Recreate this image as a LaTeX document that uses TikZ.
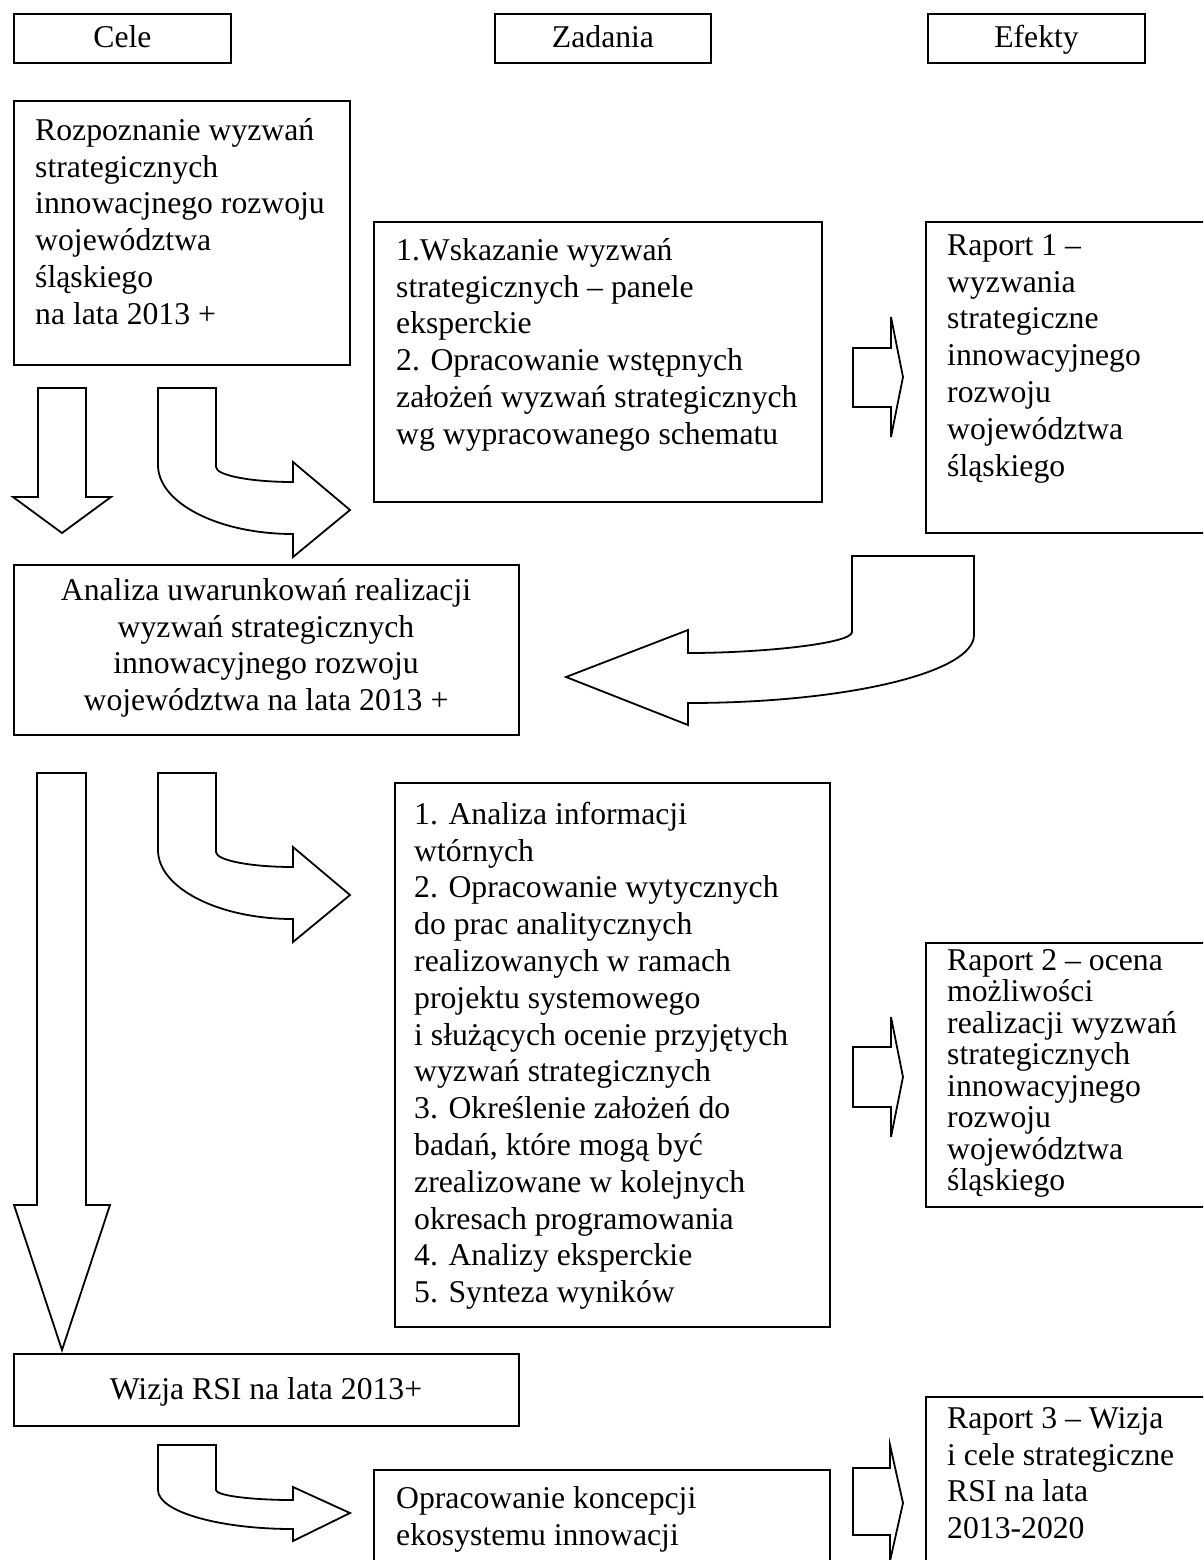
\documentclass[tikz,border=0pt]{standalone}
\usepackage{fontspec}
\setmainfont{Liberation Serif}
\newcommand\fs{\fontsize{31.7}{36.8}\selectfont}
\newcommand\fsb{\fontsize{31.7}{31.5}\selectfont}
\newcommand\st{\rule{0pt}{30pt}}
\begin{document}
\begin{tikzpicture}[x=1pt,y=-1pt,
  box/.style={draw, line width=2pt},
  blk/.style={draw, line width=1.8pt, fill=white, line join=miter},
  txt/.style={anchor=north west, inner sep=0pt, align=left, font=\fs},
  ctxt/.style={anchor=north, inner sep=0pt, align=center, font=\fs},
  htxt/.style={anchor=base, inner sep=0pt, font=\fs}]
\clip (0,0) rectangle (1203,1560);
\fill[white] (0,0) rectangle (1203,1560);

% header boxes
\draw[box] (14,14) rectangle (231,63);
\draw[box] (495,14) rectangle (711,63);
\draw[box] (928,14) rectangle (1145,63);
\node[htxt] (hcele) at (122.5,48) {Cele};
\node[htxt] (hzad) at (603,48) {Zadania};
\node[htxt] (hefe) at (1036.5,48) {Efekty};

% boxes
\draw[box] (14,101) rectangle (350,365);
\node[txt] (rozp) at (35,110) {\st Rozpoznanie wyzwań\\strategicznych\\innowacjnego rozwoju\\województwa\\śląskiego\\na lata 2013 +};

\draw[box] (374,222) rectangle (822,502);
\node[txt] (wsk) at (396,230) {\st 1.Wskazanie wyzwań\\strategicznych – panele\\eksperckie\\2. Opracowanie wstępnych\\założeń wyzwań strategicznych\\wg wypracowanego schematu};

\draw[box] (926,222) rectangle (1215,533);
\node[txt] (rap1) at (947,225) {\st Raport 1 –\\wyzwania\\strategiczne\\innowacyjnego\\rozwoju\\województwa\\śląskiego};

\draw[box] (14,565) rectangle (519,735);
\node[ctxt] (anal) at (266,570) {\st Analiza uwarunkowań realizacji\\wyzwań strategicznych\\innowacyjnego rozwoju\\województwa na lata 2013 +};

\draw[box] (395,783) rectangle (830,1327);
\node[txt] (ainf) at (414,794) {\st 1. Analiza informacji\\wtórnych\\2. Opracowanie wytycznych\\do prac analitycznych\\realizowanych w ramach\\projektu systemowego\\i służących ocenie przyjętych\\wyzwań strategicznych\\3. Określenie założeń do\\badań, które mogą być\\zrealizowane w kolejnych\\okresach programowania\\4. Analizy eksperckie\\5. Synteza wyników};

\draw[box] (926,943) rectangle (1215,1207);
\node[txt, font=\fsb] (rap2) at (947,940) {\st Raport 2 – ocena\\możliwości\\realizacji wyzwań\\strategicznych\\innowacyjnego\\rozwoju\\województwa\\śląskiego};

\draw[box] (14,1354) rectangle (519,1426);
\node[htxt] (wiz) at (266,1399) {Wizja RSI na lata 2013+};

\draw[box] (374,1470) rectangle (830,1580);
\node[txt] (opr) at (396,1478) {\st Opracowanie koncepcji\\ekosystemu innowacji};

\draw[box] (926,1397) rectangle (1215,1580);
\node[txt] (rap3) at (947,1398) {\st Raport 3 – Wizja\\i cele strategiczne\\RSI na lata\\2013-2020};

% down arrows
\draw[blk] (38,388) -- (86,388) -- (86,497) -- (111,497) -- (62,533) -- (13,497) -- (38,497) -- cycle;
\draw[blk] (37,773) -- (86,773) -- (86,1205) -- (110,1205) -- (62,1350) -- (14,1205) -- (37,1205) -- cycle;

% curved arrows to the right
\foreach \dy in {0,385}{
\draw[blk] (158,388+\dy) -- (216,388+\dy) -- (216,467+\dy)
  .. controls (216,475.3+\dy) and (250.5,482+\dy) .. (293,482+\dy)
  -- (293,462+\dy) -- (350,510+\dy) -- (293,557+\dy) -- (293,534+\dy)
  .. controls (218.4,534+\dy) and (158,503+\dy) .. (158,465+\dy) -- cycle;
}
\draw[blk] (158,1445) -- (216,1445) -- (216,1490)
  .. controls (216,1495.5) and (250.5,1500) .. (293,1500)
  -- (293,1487) -- (350,1513) -- (293,1541) -- (293,1529)
  .. controls (218.4,1529) and (158,1511.5) .. (158,1490) -- cycle;

% curved arrow to the left
\draw[blk] (852,556) -- (974,556) -- (974,635)
  .. controls (974,672.6) and (846,703) .. (688,703)
  -- (688,725) -- (566,677) -- (688,630) -- (688,653)
  .. controls (761.4,653) and (852,643.6) .. (852,632) -- cycle;

% small right arrows
\draw[blk] (853,348) -- (891,348) -- (891,317) -- (903,377) -- (891,437) -- (891,407) -- (853,407) -- cycle;
\draw[blk] (853,1047) -- (891,1047) -- (891,1017) -- (903,1077) -- (891,1137) -- (891,1107) -- (853,1107) -- cycle;
\draw[blk] (853,1468) -- (890,1468) -- (890,1445) -- (903,1503) -- (890,1561) -- (890,1535) -- (853,1535) -- cycle;
\end{tikzpicture}
\end{document}
